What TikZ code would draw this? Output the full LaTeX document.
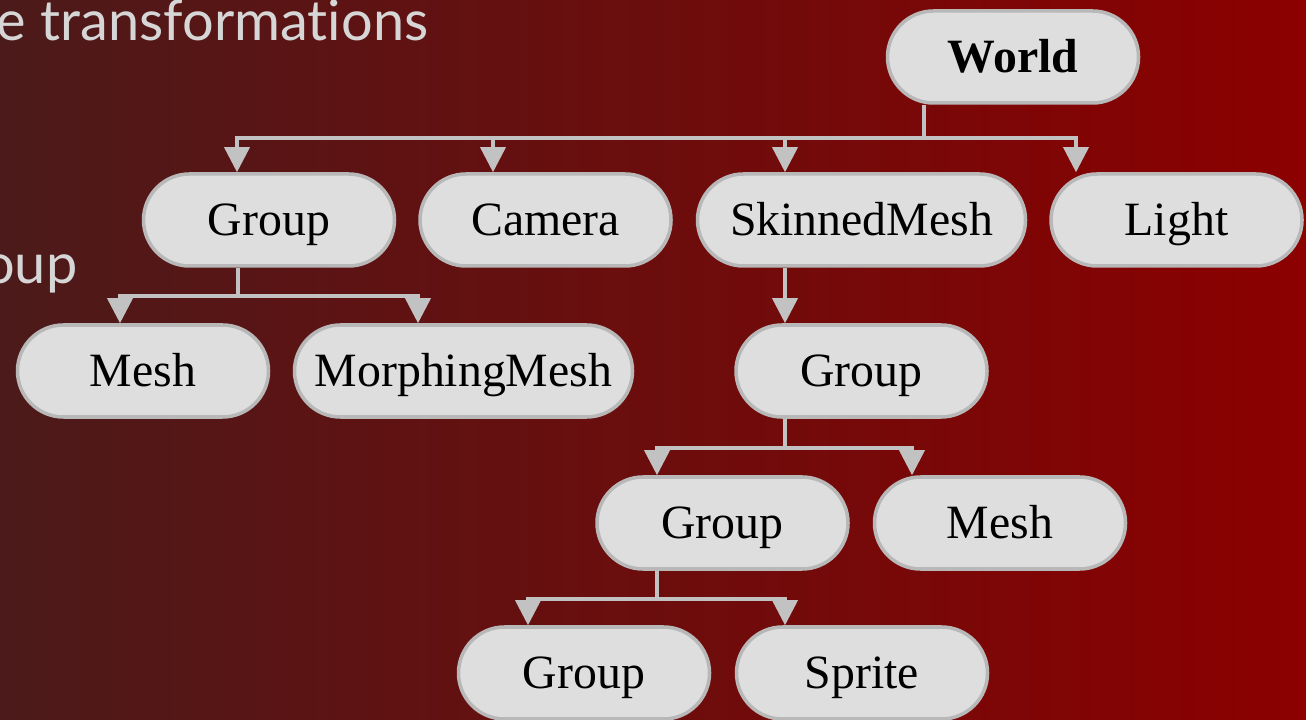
\documentclass[tikz,border=0pt]{standalone}
\usepackage{fontspec}
\setmainfont{Liberation Serif}
\newfontfamily\slidefont[Ligatures=NoCommon]{Lato}
\usepackage{xcolor}
\definecolor{bgleft}{RGB}{76,26,26}
\definecolor{bgmid}{RGB}{104,10,12}
\definecolor{bgright}{RGB}{140,0,0}
\definecolor{pillfill}{RGB}{222,222,222}
\definecolor{pilldraw}{RGB}{184,184,184}
\definecolor{linkgray}{RGB}{194,194,194}
\definecolor{slidetext}{RGB}{214,214,214}
\usetikzlibrary{arrows.meta,positioning,shapes.misc,calc}

\begin{document}
\begin{tikzpicture}[
  x=1cm,y=1cm,
  every node/.style={font=\fontsize{13.6}{16}\selectfont},
  pill/.style={rounded rectangle,draw=pilldraw,fill=pillfill,line width=1pt,
               minimum width=2.51cm,minimum height=0.92cm,inner xsep=0pt,inner ysep=0pt,
               text height=0.86em,text depth=0pt,text=black},
  link/.style={draw=linkgray,line width=1pt},
  linkarrow/.style={link,-{Triangle[length=0.25cm,width=0.25cm]}},
  slide/.style={font=\slidefont\fontsize{15.9}{19}\selectfont,text=slidetext,inner sep=0pt},
]
  % background
  \useasboundingbox (0,-7.2) rectangle (13.06,0);
  \shade[left color=bgleft,middle color=bgmid,right color=bgright] (0,-7.2) rectangle (13.06,0);

  % slide text behind the diagram
  \node[slide,anchor=base east] (title) at (4.29,-0.41) {e transformations};
  \node[slide,anchor=base east] (bullet) at (0.78,-2.84) {oup};

  % Root
  \node[pill,font=\fontsize{13.6}{16}\selectfont\bfseries] (world) at (10.13,-0.57) {World};
  % Level 1
  \node[pill] (grpA) at (2.69,-2.20) {Group};
  \node[pill] (camera) at (5.455,-2.20) {Camera};
  \node[pill,minimum width=3.28cm] (skinned) at (8.615,-2.20) {SkinnedMesh};
  \node[pill] (light) at (11.765,-2.20) {Light};
  % Level 2
  \node[pill] (meshA) at (1.43,-3.71) {Mesh};
  \node[pill,minimum width=3.38cm] (morph) at (4.635,-3.71) {MorphingMesh};
  \node[pill] (grpB) at (8.615,-3.71) {Group};
  % Level 3
  \node[pill] (grpC) at (7.225,-5.23) {Group};
  \node[pill] (meshB) at (10.00,-5.23) {Mesh};
  % Level 4
  \node[pill] (grpD) at (5.84,-6.73) {Group};
  \node[pill] (sprite) at (8.62,-6.73) {Sprite};

  % World -> children
  \coordinate (wbus) at ([xshift=-8.9mm,yshift=-3.3mm]world.south);
  \draw[link] ([xshift=-8.9mm]world.south) -- (wbus);
  \draw[linkarrow] (wbus) -| ([xshift=-3.2mm]grpA.north);
  \draw[linkarrow] (wbus) -| ([xshift=-5.25mm]camera.north);
  \draw[linkarrow] (wbus) -| ([xshift=-7.65mm]skinned.north);
  \draw[linkarrow] (wbus) -| ([xshift=-10.05mm]light.north);

  % Group -> Mesh, MorphingMesh
  \coordinate (abus) at ([xshift=-3.1mm,yshift=-2.8mm]grpA.south);
  \draw[link] ([xshift=-3.1mm]grpA.south) -- (abus);
  \draw[linkarrow] (abus) -| ([xshift=-2.3mm]meshA.north);
  \draw[linkarrow] (abus) -| ([xshift=-4.55mm]morph.north);

  % SkinnedMesh -> Group
  \draw[linkarrow] ([xshift=-7.65mm]skinned.south) -- ([xshift=-7.65mm]grpB.north);

  % Group -> Group, Mesh
  \coordinate (bbus) at ([xshift=-7.65mm,yshift=-2.9mm]grpB.south);
  \draw[link] ([xshift=-7.65mm]grpB.south) -- (bbus);
  \draw[linkarrow] (bbus) -| ([xshift=-6.55mm]grpC.north);
  \draw[linkarrow] (bbus) -| ([xshift=-8.8mm]meshB.north);

  % Group -> Group, Sprite
  \coordinate (cbus) at ([xshift=-6.55mm,yshift=-2.8mm]grpC.south);
  \draw[link] ([xshift=-6.55mm]grpC.south) -- (cbus);
  \draw[linkarrow] (cbus) -| ([xshift=-5.6mm]grpD.north);
  \draw[linkarrow] (cbus) -| ([xshift=-7.7mm]sprite.north);
\end{tikzpicture}
\end{document}
